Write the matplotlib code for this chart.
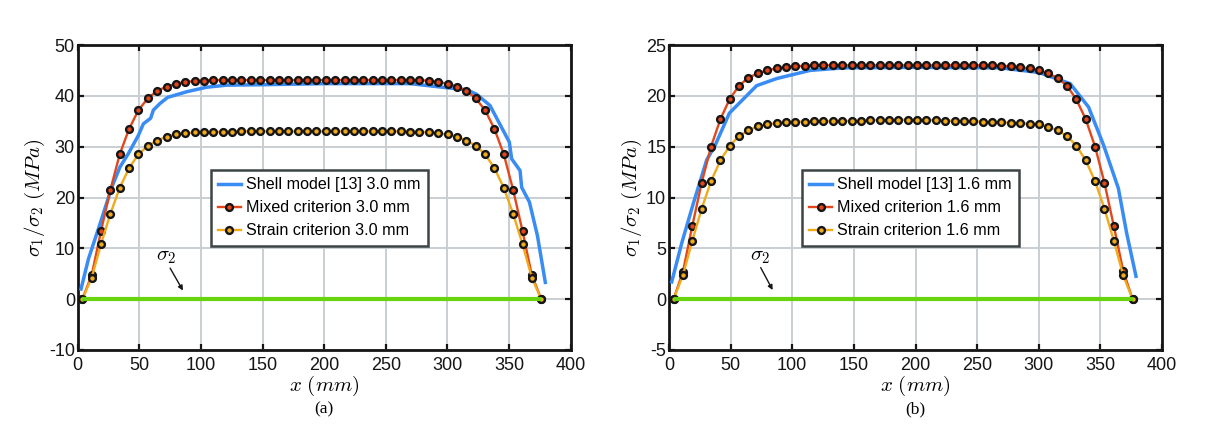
import matplotlib
matplotlib.use("Agg")
import matplotlib.pyplot as plt

plt.rcParams["font.family"] = ["Liberation Sans", "DejaVu Sans"]
plt.rcParams["mathtext.fontset"] = "cm"
plt.rcParams["axes.unicode_minus"] = False

x_points = [3.7, 11.3, 18.9, 26.5, 34.1, 41.7, 49.3, 56.9, 64.5, 72.1,
            79.7, 87.3, 94.9, 102.5, 110.1, 117.7, 125.3, 132.9, 140.5, 148.1,
            155.7, 163.3, 170.9, 178.5, 186.1, 193.7, 201.3, 208.9, 216.5, 224.1,
            231.7, 239.3, 246.9, 254.5, 262.1, 269.7, 277.3, 284.9, 292.5, 300.1,
            307.7, 315.3, 322.9, 330.5, 338.1, 345.7, 353.3, 360.9, 368.5, 376.1]

# (a) 3.0 mm
mixed_a = [0, 4.7, 13.4, 21.5, 28.5, 33.5, 37.2, 39.5, 41.0, 41.8,
           42.4, 42.7, 42.95, 43.0, 43.1, 43.1, 43.1, 43.1, 43.1, 43.1,
           43.1, 43.1, 43.1, 43.1, 43.1, 43.1, 43.1, 43.1, 43.1, 43.1,
           43.1, 43.1, 43.1, 43.1, 43.1, 43.1, 43.05, 43.0, 42.7, 42.4,
           41.8, 41.0, 39.5, 37.2, 33.5, 28.5, 21.5, 13.4, 4.7, 0]
strain_a = [0, 4.2, 10.8, 16.8, 21.9, 25.8, 28.5, 30.2, 31.2, 32.0,
            32.4, 32.6, 32.8, 32.85, 32.9, 32.9, 32.95, 33.0, 33.0, 33.0,
            33.0, 33.0, 33.0, 33.0, 33.0, 33.0, 33.0, 33.0, 33.0, 33.0,
            33.0, 33.0, 33.0, 33.0, 33.0, 32.95, 32.9, 32.85, 32.6, 32.4,
            32.0, 31.2, 30.2, 28.5, 25.8, 21.9, 16.8, 10.8, 4.2, 0]
shell_a_x = [2.7, 8.7, 18.1, 27.6, 34.3, 41, 49.2, 53.3, 59.2, 61.4, 66.8, 73, 88.4, 104.7,
             120.9, 153, 200, 269.6, 299.4, 315.6, 323.7, 334.5, 350.2, 352.1, 358.9,
             360.2, 366.5, 373, 379.4]
shell_a = [2.0, 7.9, 14.8, 22, 26, 28.6, 32.2, 34.5, 35.6, 37.2, 38.5, 39.7, 40.8, 41.7,
           42.1, 42.2, 42.4, 42.4, 41.6, 41.2, 40.3, 38.1, 30.9, 27.6, 25.3,
           22, 19.1, 12.5, 3.3]

# (b) 1.6 mm
mixed_b = [0, 2.7, 7.2, 11.45, 15.0, 17.7, 19.7, 21.0, 21.8, 22.2,
           22.5, 22.7, 22.8, 22.9, 22.95, 23.0, 23.0, 23.0, 23.0, 23.0,
           23.0, 23.0, 23.0, 23.0, 23.0, 23.0, 23.0, 23.0, 23.0, 23.0,
           23.0, 23.0, 23.0, 23.0, 23.0, 22.95, 22.9, 22.8, 22.7, 22.5,
           22.2, 21.75, 21.0, 19.65, 17.7, 15.0, 11.45, 7.2, 2.8, 0]
strain_b = [0, 2.35, 5.75, 8.9, 11.6, 13.65, 15.1, 16.05, 16.6, 17.0,
            17.2, 17.3, 17.4, 17.45, 17.45, 17.5, 17.5, 17.5, 17.5, 17.55,
            17.55, 17.6, 17.6, 17.6, 17.65, 17.65, 17.65, 17.6, 17.6, 17.55,
            17.55, 17.5, 17.5, 17.45, 17.4, 17.4, 17.35, 17.3, 17.25, 17.2,
            16.95, 16.6, 16.05, 15.1, 13.65, 11.6, 8.9, 5.75, 2.35, 0]
shell_b_x = [2.2, 10.3, 19.7, 30.6, 37.3, 49, 71.1, 87.4, 114.4, 141.4, 200, 268.6,
             300, 325.5, 340.4, 352.6, 364.6, 371.4, 378.9]
shell_b = [1.7, 5.5, 9.4, 13.7, 15.1, 18.3, 21, 21.7, 22.5, 22.75, 22.8, 22.75,
           22.3, 21.2, 18.9, 15.15, 10.9, 6.45, 2.25]

sigma2_x = [3.7, 376.1]
sigma2 = [0, 0]

xticks = [0, 50, 100, 150, 200, 250, 300, 350, 400]
yticks_a = [-10, 0, 10, 20, 30, 40, 50]
yticks_b = [-5, 0, 5, 10, 15, 20, 25]

BLUE = "#3a8cf5"
RED = "#e2471b"
YELLOW = "#f0aa1c"
GREEN = "#68d40e"
INK = "#151515"
W, H = 1208, 445

fig = plt.figure(figsize=(W / 100, H / 100), dpi=100)


def draw_panel(left, mixed, strain, shell_x, shell, yticks, thick, tag, arrow, label_at):
    ax = fig.add_axes([left / W, 1 - 350 / H, 493 / W, 305 / H])
    ax.plot(shell_x, shell, color=BLUE, lw=2.5, label=f"Shell model [13] {thick} mm", zorder=3)
    ax.plot(x_points, mixed, color=RED, lw=1.7, marker="o", ms=4.9, mfc=RED, mec=INK,
            mew=1.7, label=f"Mixed criterion {thick} mm", zorder=4)
    ax.plot(x_points, strain, color=YELLOW, lw=1.7, marker="o", ms=4.9, mfc=YELLOW, mec=INK,
            mew=1.7, label=f"Strain criterion {thick} mm", zorder=4)
    ax.plot(sigma2_x, sigma2, color=GREEN, lw=3, zorder=5, solid_capstyle="butt")

    ax.set_xlim(0, 400)
    ax.set_ylim(yticks[0], yticks[-1])
    ax.set_xticks(xticks)
    ax.set_yticks(yticks)
    ax.grid(True, color="#c9ced3", lw=1.4)
    ax.set_axisbelow(True)
    ax.tick_params(direction="in", top=True, right=True, length=4, width=1.6,
                   labelsize=13, color=INK, labelcolor=INK)
    ax.tick_params(axis="x", pad=5)
    ax.tick_params(axis="y", pad=2)
    for s in ax.spines.values():
        s.set_linewidth(2)
        s.set_color(INK)

    ax.set_xlabel(r"$x\ (mm)$", fontsize=15, labelpad=0)
    ax.set_ylabel(r"$\sigma_1/\sigma_2\ (MPa)$", fontsize=15, labelpad=1.5)
    ax.text(0.5, -0.195, tag, transform=ax.transAxes, ha="center", va="center",
            fontsize=12.5, family="Liberation Serif")

    ax.text(label_at[0], label_at[1], r"$\sigma_2$", fontsize=15, ha="center", va="center")
    ax.annotate("", xy=arrow[1], xytext=arrow[0],
                arrowprops=dict(arrowstyle="-|>", color=INK, lw=1, mutation_scale=7,
                                shrinkA=0, shrinkB=0))

    leg = ax.legend(loc="upper left", bbox_to_anchor=(0.2694, 0.59), borderaxespad=0,
                    fontsize=11.6, fancybox=False, framealpha=1, edgecolor="#3c4444",
                    handlelength=1.45, handletextpad=0.3, labelspacing=0.5, borderpad=0.45)
    leg.get_frame().set_linewidth(1.8)
    leg.set_zorder(6)


draw_panel(77.7, mixed_a, strain_a, shell_a_x, shell_a, yticks_a, "3.0", "(a)",
           ((75, 6.1), (85.4, 1.7)), (71.6, 8.4))
draw_panel(669, mixed_b, strain_b, shell_b_x, shell_b, yticks_b, "1.6", "(b)",
           ((74.4, 3.1), (84.1, 0.9)), (73.8, 4.2))

fig.savefig("out.png", dpi=100)
